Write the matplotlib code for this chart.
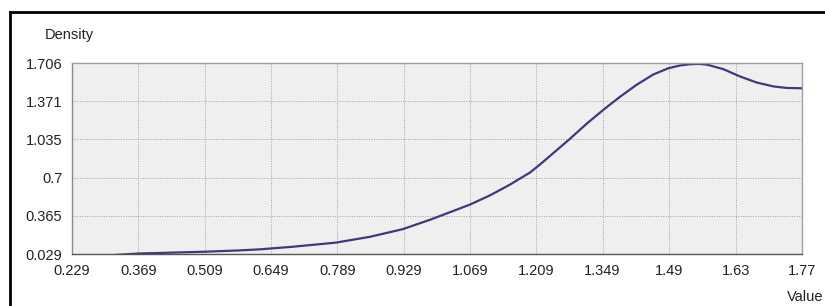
import matplotlib
matplotlib.use("Agg")
import matplotlib.pyplot as plt
from matplotlib.lines import Line2D

# values
value = [0.229, 0.299, 0.369, 0.439, 0.509, 0.579, 0.626, 0.696, 0.786,
         0.858, 0.927, 0.985, 1.027, 1.069, 1.111, 1.153, 1.196, 1.217,
         1.245, 1.280, 1.316, 1.351, 1.386, 1.421, 1.456, 1.488, 1.512,
         1.533, 1.551, 1.569, 1.604, 1.639, 1.674, 1.710, 1.738, 1.77]
density = [0.0, 0.015, 0.033, 0.041, 0.049, 0.06, 0.07, 0.093, 0.129,
           0.18, 0.247, 0.33, 0.396, 0.463, 0.543, 0.637, 0.745, 0.815,
           0.915, 1.04, 1.175, 1.296, 1.41, 1.515, 1.605, 1.66, 1.684,
           1.695, 1.698, 1.692, 1.652, 1.588, 1.535, 1.50, 1.487, 1.484]

x_ticks = [0.229, 0.369, 0.509, 0.649, 0.789, 0.929, 1.069, 1.209,
           1.349, 1.49, 1.63, 1.77]
y_ticks = [0.029, 0.365, 0.7, 1.035, 1.371, 1.706]

plt.rcParams["font.family"] = ["Liberation Sans", "DejaVu Sans"]

fig = plt.figure(figsize=(8.25, 3.06), dpi=100)
ax = fig.add_axes([72 / 825, 1 - 254 / 306, 730 / 825, 191 / 306])
ax.set_facecolor("#efefef")

ax.plot(value, density, color="#3b3a7e", linewidth=1.6,
        solid_joinstyle="round", clip_on=True)

ax.set_xlim(x_ticks[0], x_ticks[-1])
ax.set_ylim(y_ticks[0], y_ticks[-1])
ax.set_xticks(x_ticks)
ax.set_xticklabels([str(t) for t in x_ticks])
ax.set_yticks(y_ticks)
ax.set_yticklabels([str(t) for t in y_ticks])
ax.tick_params(length=0, labelsize=10.5, colors="#222222", pad=7)

ax.grid(True, color="#a0a0a0", linestyle=(0, (1, 1.5)), linewidth=0.7)

for side in ["top", "right"]:
    ax.spines[side].set_color("#a0a0a0")
ax.spines["left"].set_color("#8a8a8a")
ax.spines["bottom"].set_color("#555555")
for sp in ax.spines.values():
    sp.set_linewidth(1.0)

fig.text(45 / 825, 1 - 35 / 306, "Density", fontsize=10.5, va="center",
         ha="left", color="#222222")
fig.text(823 / 825, 1 - 297 / 306, "Value", fontsize=10.5, va="center",
         ha="right", color="#222222")

# outer frame (top and left edges visible in the picture)
fig.add_artist(Line2D([10 / 825, 1.0], [1 - 12 / 306, 1 - 12 / 306],
                      color="black", linewidth=2))
fig.add_artist(Line2D([10 / 825, 10 / 825], [0, 1 - 12 / 306],
                      color="black", linewidth=2))

fig.savefig("out.png", dpi=100)
